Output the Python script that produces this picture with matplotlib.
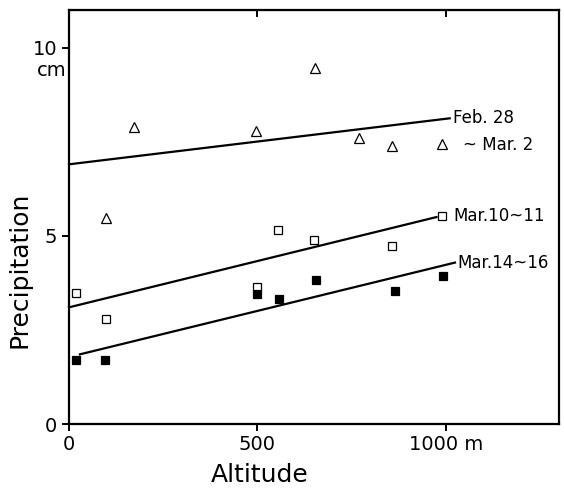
import matplotlib
matplotlib.use("Agg")
import matplotlib.pyplot as plt
import numpy as np

# Data
tri_x = [98, 172, 496, 652, 770, 856, 989]
tri_y = [5.48, 7.88, 7.78, 9.45, 7.59, 7.38, 7.44]

sq_x = [19, 98, 500, 554, 650, 856, 990]
sq_y = [3.47, 2.78, 3.65, 5.16, 4.89, 4.74, 5.53]

fsq_x = [19, 96, 500, 556, 655, 865, 992]
fsq_y = [1.69, 1.69, 3.46, 3.33, 3.83, 3.54, 3.94]

# regression lines: (x_start, x_end, intercept, slope)
line_x0 = [0, 0, 29]
line_x1 = [1010, 975, 1024]
line_b = [6.9, 3.1, 1.78]
line_m = [0.00121, 0.00246, 0.00245]

fig = plt.figure(figsize=(5.64, 4.88), dpi=100)
ax = fig.add_axes([69/564, 1-424/488, (559-69)/564, (424-10)/488])
fs = 14

for x0, x1, b, m in zip(line_x0, line_x1, line_b, line_m):
    xx = np.array([x0, x1])
    ax.plot(xx, b + m*xx, color='black', lw=1.6, clip_on=False)

ax.plot(tri_x, tri_y, ls='none', marker='^', ms=6.5, mfc='white', mec='black', mew=0.9)
ax.plot(sq_x, sq_y, ls='none', marker='s', ms=6.3, mfc='white', mec='black', mew=0.9)
ax.plot(fsq_x, fsq_y, ls='none', marker='s', ms=6.3, mfc='black', mec='black', mew=0.9)

lfs = 12
ax.text(1020, 8.12, "Feb. 28", fontsize=lfs, va='center', ha='left')
ax.text(1045, 7.42, "~ Mar. 2", fontsize=lfs, va='center', ha='left')
ax.text(1020, 5.53, "Mar.10~11", fontsize=lfs, va='center', ha='left')
ax.text(1030, 4.29, "Mar.14~16", fontsize=lfs, va='center', ha='left')

ax.set_xlim(0, 1300)
ax.set_ylim(0, 11)
ax.set_xticks([0, 500, 1000])
ax.set_xticklabels(["0", "500", "1000 m"], fontsize=fs)
ax.set_yticks([0, 5, 10])
ax.set_yticklabels(["0", "5", "10"], fontsize=fs)
ax.tick_params(direction='out', length=5, width=1.4)
ax.tick_params(axis='x', pad=3)
ax.text(-0.006, 9.4, "cm", transform=ax.get_yaxis_transform(), fontsize=fs,
        ha='right', va='center')
# inward ticks on top
top = ax.secondary_xaxis('top')
top.set_xticks([500, 1000], labels=[])
top.tick_params(direction='in', length=5, width=1.4)
for sp in ax.spines.values():
    sp.set_linewidth(1.6)

fig.text(20/564, 1-270/488, "Precipitation", rotation=90, fontsize=18,
         ha='center', va='center')
fig.text(260/564, 1-475/488, "Altitude", fontsize=18, ha='center', va='center')

fig.savefig("out.png", dpi=100)
